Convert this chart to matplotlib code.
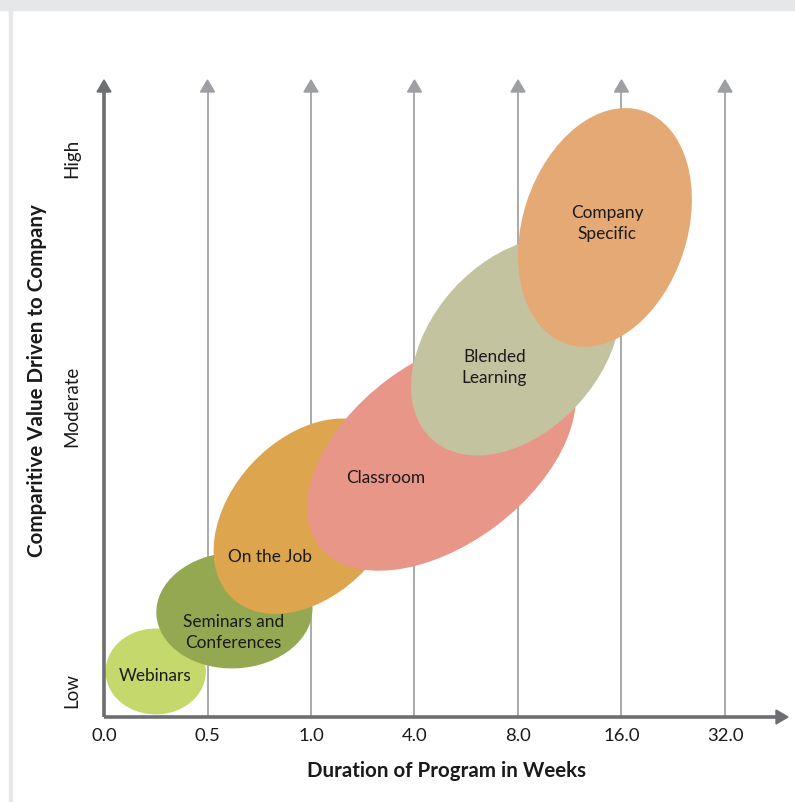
import matplotlib
matplotlib.use("Agg")
import matplotlib.pyplot as plt
from matplotlib.patches import Ellipse, Polygon, Rectangle

plt.rcParams['font.family'] = ['Lato', 'DejaVu Sans']

# Axis categories
durations = ["0.0", "0.5", "1.0", "4.0", "8.0", "16.0", "32.0"]
value_levels = ["Low", "Moderate", "High"]
value_level_pos = [0.26, 3.0, 5.4]

# Training programs: bubble centre, size and tilt (axis units)
programs = ["Webinars", "Seminars and\nConferences", "On the Job",
            "Classroom", "Blended\nLearning", "Company\nSpecific"]
center_x = [0.50, 1.26, 1.98, 3.26, 3.98, 4.84]
center_y = [0.44, 1.03, 1.94, 2.55, 3.58, 4.73]
widths = [0.97, 1.51, 2.17, 2.97, 2.42, 2.37]
heights = [0.83, 1.12, 1.50, 1.76, 1.64, 1.59]
angles = [0, 3, 47, 37, 48, 72]
label_x = [0.49, 1.25, 1.60, 2.72, 3.77, 4.86]
label_y = [0.40, 0.82, 1.55, 2.31, 3.38, 4.77]
colors = ["#c4d86b", "#94a852", "#dda54e", "#e89688", "#c4c3a0", "#e4a974"]

W, H = 795, 802
fig = plt.figure(figsize=(W / 100, H / 100), dpi=100)

# page frame
fig.patches.append(Rectangle((0, 1 - 10 / H), 1, 10 / H, transform=fig.transFigure,
                             color="#e6e7e8", zorder=0))
fig.patches.append(Rectangle((9 / W, 0), 3 / W, 1 - 10 / H, transform=fig.transFigure,
                             color="#e8e8e8", zorder=0))

unit = 103.5  # pixels per axis unit
x0_px, y0_px = 104, 717
xmax, ymax = 6.62, 6.2
ax = fig.add_axes([x0_px / W, (H - y0_px) / H, xmax * unit / W, ymax * unit / H])
ax.set_xlim(0, xmax)
ax.set_ylim(0, ymax)
for s in ax.spines.values():
    s.set_visible(False)
ax.patch.set_alpha(0)

top = (y0_px - 80) / unit
head_h = 12 / unit
head_w = 7 / unit

# vertical gridlines with arrow heads
grid_col = "#a3a4a6"
for i in range(1, len(durations)):
    ax.plot([i, i], [0, top - head_h], color=grid_col, lw=1.3, zorder=1, solid_capstyle='butt')
    ax.add_patch(Polygon([[i - head_w, top - head_h], [i + head_w, top - head_h], [i, top]],
                         closed=True, color="#9d9fa2", zorder=1, clip_on=False))

# bubbles
for k in range(len(programs)):
    ax.add_patch(Ellipse((center_x[k], center_y[k]), widths[k], heights[k], angle=angles[k],
                         facecolor=colors[k], edgecolor='none', zorder=2 + k))
    ax.text(label_x[k], label_y[k], programs[k], ha='center', va='center', fontsize=12.4,
            color="#1a1a1a", zorder=20, linespacing=1.38)

# main axes with arrows
axis_col = "#6d6e71"
right = (788 - x0_px) / unit
ax.plot([0, 0], [0, top - head_h], color=axis_col, lw=2.6, zorder=30, clip_on=False,
        solid_capstyle='butt')
ax.add_patch(Polygon([[-head_w, top - head_h], [head_w, top - head_h], [0, top]],
                     closed=True, color=axis_col, zorder=30, clip_on=False))
ax.plot([0, right - head_h], [0, 0], color=axis_col, lw=2.6, zorder=30, clip_on=False,
        solid_capstyle='butt')
ax.add_patch(Polygon([[right - head_h, -head_w], [right - head_h, head_w], [right, 0]],
                     closed=True, color=axis_col, zorder=30, clip_on=False))

ax.set_xticks(range(len(durations)))
ax.set_xticklabels(durations, fontsize=13.3, color="#1a1a1a")
ax.set_yticks(value_level_pos)
ax.set_yticklabels(value_levels, fontsize=13.5, color="#1a1a1a", rotation=90, va='center')
ax.tick_params(axis='x', length=0, pad=8)
ax.tick_params(axis='y', length=0, pad=17)

ax.set_xlabel("Duration of Program in Weeks", fontsize=14.8, fontweight='bold',
              color="#1a1a1a", labelpad=12)
fig.text(37 / W, 1 - 381 / H, "Comparitive Value Driven to Company", rotation=90,
         ha='center', va='center', fontsize=14.8, fontweight='bold', color="#1a1a1a")

fig.savefig("out.png", dpi=100)
